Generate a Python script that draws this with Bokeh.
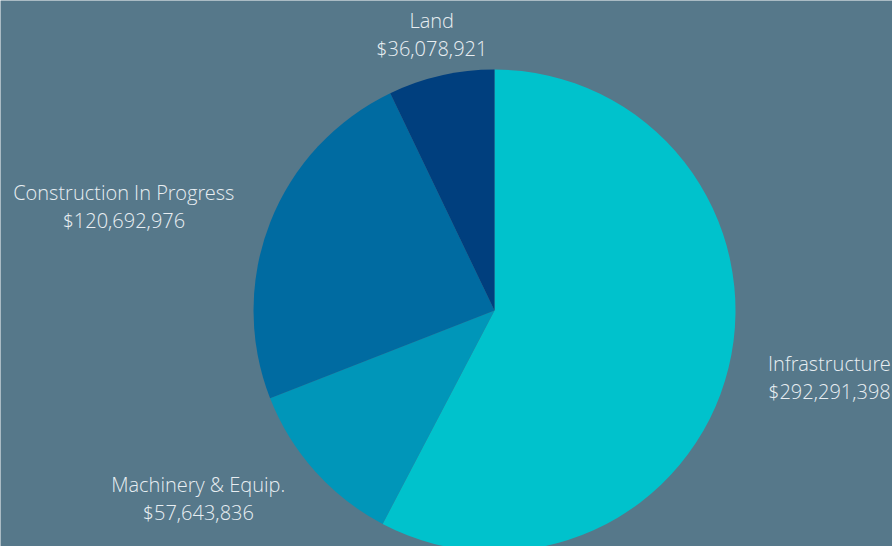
import math
from bokeh.plotting import figure
from bokeh.models import Range1d, ColumnDataSource
from bokeh.core.properties import value
from bokeh.embed import file_html
from bokeh.resources import INLINE

categories = ["Infrastructure", "Machinery & Equip.", "Construction In Progress", "Land"]
amounts = [292291398, 57643836, 120692976, 36078921]
colors = ["#00C2CC", "#0096B9", "#006BA1", "#003F7E"]

BG = "#56788A"
TXT = "#E8EEF2"
W, H = 892, 546
CX, CY, R = 494, H - 310, 241
RL = 283
FS = 20


def est_width(s):
    """Rough width in px of a string in Open Sans Light at FS px."""
    em = 0.0
    for ch in s:
        if ch.isdigit() or ch == "$":
            em += 0.555
        elif ch in ",.":
            em += 0.23
        elif ch == " ":
            em += 0.25
        elif ch == "&":
            em += 0.65
        elif ch in "ftirjl":
            em += 0.28
        elif ch == "I":
            em += 0.30
        elif ch == "M":
            em += 0.85
        elif ch.isupper():
            em += 0.62
        else:
            em += 0.54
    return em * FS


total = sum(amounts)
starts, ends, lx, ly, names, vals = [], [], [], [], [], []
cum = 0.0
for c, a in zip(categories, amounts):
    f0 = cum / total
    cum += a
    f1 = cum / total
    starts.append(math.pi / 2 - f1 * 2 * math.pi)
    ends.append(math.pi / 2 - f0 * 2 * math.pi)
    mid = (f0 + f1) / 2 * 2 * math.pi
    s, co = math.sin(mid), math.cos(mid)
    v = "${:,}".format(a)
    half = max(est_width(c), est_width(v)) / 2
    x = CX + RL * s
    if abs(s) >= 0.3:
        x += half if s > 0 else -half
    lx.append(x)
    ly.append(CY + RL * co)
    names.append(c)
    vals.append(v)

src = ColumnDataSource(dict(start=starts, end=ends, color=colors, lx=lx, ly=ly,
                            name=names, val=vals))

p = figure(width=W, height=H, output_backend="svg", toolbar_location=None,
           x_range=Range1d(0, W), y_range=Range1d(0, H), min_border=0)
p.axis.visible = False
p.grid.visible = False
p.outline_line_color = None
p.background_fill_color = BG
p.border_fill_color = BG

p.wedge(x=CX, y=CY, radius=R, start_angle="start", end_angle="end",
        fill_color="color", line_color=None, source=src)

FONT = value("Open Sans Light")
p.text(x="lx", y="ly", text="name", text_align="center", text_baseline="middle",
       y_offset=-14.5, text_font=FONT, text_font_size="%dpx" % FS,
       text_color=TXT, source=src)
p.text(x="lx", y="ly", text="val", text_align="center", text_baseline="middle",
       y_offset=13.5, text_font=FONT, text_font_size="%dpx" % FS,
       text_color=TXT, source=src)

html = file_html(p, INLINE)
html = html.replace("<body>", '<body style="margin:0;background:%s;overflow:hidden">' % BG, 1)
open("out.html", "w").write(html)
